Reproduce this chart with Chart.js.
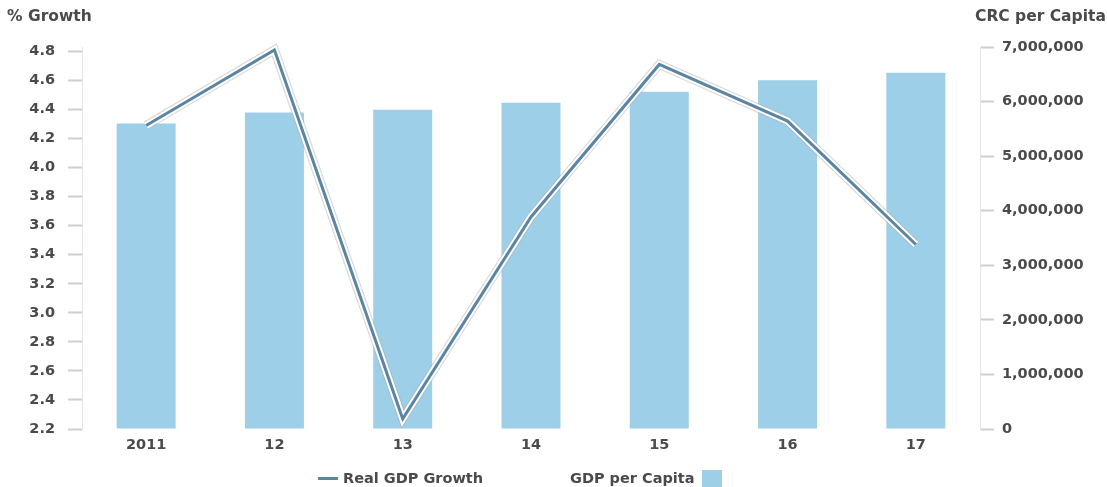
<!DOCTYPE html>
<html>
<head>
<meta charset="utf-8">
<script src="https://cdn.jsdelivr.net/npm/chart.js@4.4.1/dist/chart.umd.min.js"></script>
<style>
    html, body { margin: 0; padding: 0; background: #fff; }
    #wrap { position: relative; width: 1107px; height: 487px; overflow: hidden; font-family: "DejaVu Sans", sans-serif; color: #444; }
    #chart { position: absolute; left: 0; top: 0; }
    .axis-title { position: absolute; top: 7px; font-size: 15.5px; font-weight: bold; color: #4a4a4a; }
    .legend { position: absolute; top: 468px; height: 20px; font-size: 14.5px; font-weight: bold; color: #4a4a4a; display: flex; align-items: center; }
    .legend .line { width: 20px; height: 3px; background: #5a86a3; margin-right: 5px; }
    .legend .box { width: 20px; height: 19px; background: #9dd0e8; margin-left: 7px; margin-top: 3px; }
</style>
</head>
<body>
<div id="wrap">
    <canvas id="chart" width="1107" height="487"></canvas>
    <div class="axis-title" style="left:7px;">% Growth</div>
    <div class="axis-title" style="left:975px;">CRC per Capita</div>
    <div class="legend" style="left:318px;"><span class="line"></span>Real GDP Growth</div>
    <div class="legend" style="left:570px;">GDP per Capita<span class="box"></span></div>
</div>
<script>
const years = ['2011', '12', '13', '14', '15', '16', '17'];
const gdpGrowth = [4.29, 4.81, 2.27, 3.66, 4.71, 4.32, 3.47];
const gdpPerCapita = [5600000, 5800000, 5850000, 5980000, 6180000, 6390000, 6530000];

const LINE_COLOR = '#5a86a3';
const BAR_COLOR = '#9dd0e8';
const TEXT_COLOR = '#4a4a4a';
const TICK_FONT = { family: 'DejaVu Sans', size: 14.5, weight: 'bold' };

// white halo with a soft grey edge, stroked under the growth line
const lineHalo = {
    id: 'lineHalo',
    beforeDatasetDraw(chart, args) {
        if (args.index !== 0) return;
        const pts = args.meta.data;
        const ctx = chart.ctx;
        ctx.save();
        ctx.lineJoin = 'miter';
        ctx.beginPath();
        pts.forEach((p, i) => i ? ctx.lineTo(p.x, p.y) : ctx.moveTo(p.x, p.y));
        ctx.strokeStyle = 'rgba(170,170,170,0.5)';
        ctx.lineWidth = 9;
        ctx.stroke();
        ctx.strokeStyle = '#ffffff';
        ctx.lineWidth = 7;
        ctx.stroke();
        ctx.restore();
    }
};

new Chart(document.getElementById('chart').getContext('2d'), {
    data: {
        labels: years,
        datasets: [
            {
                type: 'line',
                label: 'Real GDP Growth',
                data: gdpGrowth,
                yAxisID: 'y',
                borderColor: LINE_COLOR,
                borderWidth: 3,
                borderJoinStyle: 'miter',
                pointRadius: 0,
                tension: 0,
                order: 0
            },
            {
                type: 'bar',
                label: 'GDP per Capita',
                data: gdpPerCapita,
                yAxisID: 'y1',
                backgroundColor: BAR_COLOR,
                borderWidth: 0,
                barPercentage: 0.92,
                categoryPercentage: 0.5,
                order: 1
            }
        ]
    },
    options: {
        responsive: false,
        animation: false,
        layout: { padding: { top: 47, bottom: 0, left: 0, right: 0 } },
        plugins: {
            legend: { display: false },
            tooltip: { enabled: false }
        },
        scales: {
            x: {
                offset: true,
                grid: { display: false },
                border: { display: false },
                ticks: { color: TEXT_COLOR, font: TICK_FONT, padding: 0 },
                afterFit: (scale) => { scale.height = 58; }
            },
            y: {
                position: 'left',
                min: 2.2,
                max: 4.83,
                grid: { drawOnChartArea: false, tickLength: 14, color: '#cfcfcf', tickWidth: 2 },
                border: { display: true, color: '#e4e4e4', width: 1, dash: [2, 3] },
                ticks: {
                    stepSize: 0.2,
                    includeBounds: false,
                    color: TEXT_COLOR,
                    font: TICK_FONT,
                    padding: 13,
                    callback: (v) => v.toFixed(1)
                },
                afterFit: (scale) => { scale.width = 82; }
            },
            y1: {
                position: 'right',
                min: 0,
                max: 7000000,
                grid: { drawOnChartArea: false, tickLength: 14, color: '#cfcfcf', tickWidth: 2 },
                border: { display: true, color: '#e4e4e4', width: 1 },
                ticks: {
                    stepSize: 1000000,
                    color: TEXT_COLOR,
                    font: TICK_FONT,
                    padding: 8,
                    callback: (v) => v.toLocaleString('en-US')
                },
                afterFit: (scale) => { scale.width = 127; }
            }
        }
    },
    plugins: [lineHalo]
});
</script>
</body>
</html>
